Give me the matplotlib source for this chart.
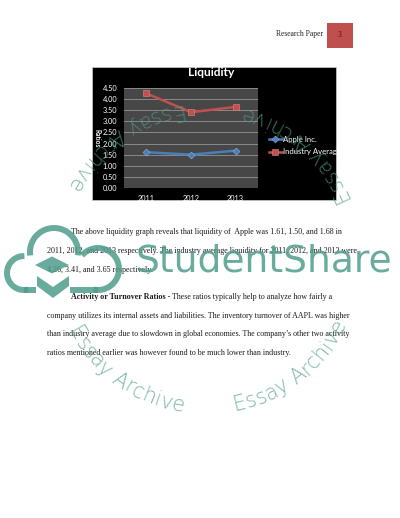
import matplotlib
matplotlib.use('Agg')
import matplotlib.pyplot as plt
import numpy as np
from matplotlib.patches import Rectangle, Polygon

# ---------------- data ----------------
years = ['2011', '2012', '2013']
apple = [1.61, 1.50, 1.68]
industry = [4.26, 3.41, 3.65]
series_names = ['Apple Inc.', 'Industry Average']
yticks = [0.0, 0.5, 1.0, 1.5, 2.0, 2.5, 3.0, 3.5, 4.0, 4.5]
chart_title = 'Liquidity'
y_label = 'Ratios'
header_text = 'Research Paper'
page_no = '3'
para1 = ['The above liquidity graph reveals that liquidity of  Apple was 1.61, 1.50, and 1.68 in',
         '2011, 2012, and 2013 respectively. The industry average liquidity for 2011, 2012, and 2013 were',
         '4.26, 3.41, and 3.65 respectively.']
para2_bold = 'Activity or Turnover Ratios -'
para2 = ['These ratios typically help to analyze how fairly a',
         'company utilizes its internal assets and liabilities. The inventory turnover of AAPL was higher',
         'than industry average due to slowdown in global economies. The company\u2019s other two activity',
         'ratios mentioned earlier was however found to be much lower than industry.']
brand = 'StudentShare'
ring_text = 'Essay Archive'

W, H = 400, 518
fig = plt.figure(figsize=(W / 100, H / 100), dpi=100)
fig.patch.set_facecolor('white')
renderer = fig.canvas.get_renderer()

page = fig.add_axes([0, 0, 1, 1])
page.set_xlim(0, W)
page.set_ylim(H, 0)
page.axis('off')


def width_px(ax, s, size, **kw):
    t = ax.text(0, 0, s, fontsize=size, **kw)
    w = t.get_window_extent(renderer).width
    t.remove()
    return w


serif = 'Liberation Serif'
sans = ['Lato', 'DejaVu Sans']

# ---------------- header ----------------
hs = 6 * 48 / width_px(page, header_text, 6, family=serif)
page.text(323, 34, header_text, fontsize=hs, family=serif, ha='right', va='center', color='#222222')
page.add_patch(Rectangle((327, 23), 26, 25, fc='#c0504d', ec='none'))
page.text(340, 35, page_no, fontsize=hs, family=serif, ha='center', va='center', color='#4a1010')

# ---------------- chart background ----------------
page.add_patch(Rectangle((92, 67), 244, 133, fc='black', ec='#d0d0d0', lw=0.5))
ts = 8 * 47 / width_px(page, chart_title, 8, family=sans, weight='bold')
page.text(211, 73, chart_title, fontsize=ts, family=sans, weight='bold', color='white',
          ha='center', va='center')

ax = fig.add_axes([124 / W, 1 - 188 / H, 134 / W, 100 / H])
ax.set_facecolor('#474747')
x = np.arange(len(years))
ax.plot(x, apple, color='#4a7ebb', lw=1.8, marker='D', ms=3.5, mfc='#4a7ebb', mec='#8eb0e0',
        mew=0.4, label=series_names[0], zorder=3)
ax.plot(x, industry, color='#c0504d', lw=1.8, marker='s', ms=5, mfc='#c0504d', mec='#e08a88',
        mew=0.4, label=series_names[1], zorder=3)
ax.set_xlim(-0.5, len(years) - 0.5)
ax.set_ylim(0, 4.5)
ax.set_xticks(x)
ax.set_xticklabels(years)
ax.set_yticks(yticks)
ax.set_yticklabels(['%.2f' % v for v in yticks])
ax.grid(axis='y', color='#8a8a8a', lw=0.7)
ax.set_axisbelow(True)
for s in ax.spines.values():
    s.set_visible(False)
ax.tick_params(length=0, colors='white', labelsize=5.3, pad=5)
for lab in ax.get_xticklabels() + ax.get_yticklabels():
    lab.set_family(sans)
ax.set_ylabel(y_label, rotation=270, color='white', fontsize=4.8, family=sans, weight='bold')
ax.yaxis.set_label_coords(-0.225, 0.5)
leg = ax.legend(loc='center left', bbox_to_anchor=(1.08, 0.425), frameon=False,
                prop={'family': sans, 'size': 5.6}, labelcolor='white', handlelength=1.7,
                handletextpad=0.2, labelspacing=0.75, borderaxespad=0, borderpad=0)

# ---------------- body text ----------------
bs = 6 * 315 / width_px(page, para1[1], 6, family=serif)
col = '#1a1a1a'
page.text(71, 232, para1[0], fontsize=bs, family=serif, va='center', color=col)
page.text(47, 251, para1[1], fontsize=bs, family=serif, va='center', color=col)
page.text(47, 270, para1[2], fontsize=bs, family=serif, va='center', color=col)
wb = width_px(page, para2_bold, bs, family=serif, weight='bold')
page.text(71, 297, para2_bold, fontsize=bs, family=serif, weight='bold', va='center', color=col)
page.text(71 + wb + bs * 1.39 * 0.25, 297, para2[0], fontsize=bs, family=serif, va='center', color=col)
page.text(47, 316, para2[1], fontsize=bs, family=serif, va='center', color=col)
page.text(47, 334, para2[2], fontsize=bs, family=serif, va='center', color=col)
page.text(47, 353, para2[3], fontsize=bs, family=serif, va='center', color=col)

# ---------------- watermark overlay ----------------
wm = fig.add_axes([0, 0, 1, 1], zorder=10)
wm.set_xlim(0, W)
wm.set_ylim(H, 0)
wm.axis('off')
wm.patch.set_alpha(0)
teal = '#4f9c8c'
walpha = 0.85

# brand text
bsz = 30 * 257 / width_px(wm, brand, 30, family='DejaVu Sans')
wm.text(135, 271, brand, fontsize=bsz, family='DejaVu Sans', color=teal, alpha=walpha,
        ha='left', va='baseline')

# cloud outline
circles = [(24, 273, 17), (54, 252, 24), (98, 269, 21)]
rect = (24, 98, 255, 290)


def inside(px, py, skip):
    m = np.zeros_like(px, dtype=bool)
    for k, (cx, cy, r) in enumerate(circles):
        if k == skip:
            continue
        m |= (px - cx) ** 2 + (py - cy) ** 2 < (r - 0.5) ** 2
    if skip != 'rect':
        m |= (px > rect[0] + 0.5) & (px < rect[1] - 0.5) & (py > rect[2] + 0.5) & (py < rect[3] - 0.5)
    return m


lw_cloud = 4.3
for k, (cx, cy, r) in enumerate(circles):
    t = np.linspace(0, 2 * np.pi, 720)
    px = cx + r * np.cos(t)
    py = cy + r * np.sin(t)
    m = inside(px, py, k)
    px = np.where(m, np.nan, px)
    wm.plot(px, py, color=teal, lw=lw_cloud, alpha=walpha, solid_capstyle='butt')
bx = np.linspace(rect[0], rect[1], 300)
by = np.full_like(bx, rect[3])
gap = (bx > 36) & (bx < 70)
wm.plot(np.where(gap, np.nan, bx), by, color=teal, lw=lw_cloud, alpha=walpha, solid_capstyle='butt')

# graduation cap and book
wm.add_patch(Polygon([(35, 265), (52, 256.5), (69, 265), (52, 273.5)], closed=True, fc=teal,
                     ec='none', alpha=walpha))
wm.add_patch(Polygon([(37, 276), (37, 286), (53, 298), (69, 286), (69, 276), (53, 287)], closed=True,
                     fc=teal, ec='none', alpha=walpha))

# ring text
rcx, rcy, rr = 205, 258, 150
rsz = 15
rfam = 'DejaVu Sans'
cw = []
for ch in ring_text:
    if ch == ' ':
        cw.append(rsz * 1.389 * 0.32)
    else:
        cw.append(width_px(wm, ch, rsz, family=rfam))
cw = np.array(cw)
span = np.deg2rad(54)
scale = span * rr / cw.sum()
for start in [22.5, 99, 208, 281]:
    cum = 0.0
    for ch, w in zip(ring_text, cw):
        a = np.deg2rad(start) + (cum + w / 2) * scale / rr
        cum += w
        if ch == ' ':
            continue
        xx = rcx + rr * np.cos(a)
        yy = rcy - rr * np.sin(a)
        wm.text(xx, yy, ch, fontsize=rsz, family=rfam, weight='light', color=teal, alpha=0.75,
                rotation=np.rad2deg(a) + 90, rotation_mode='anchor', ha='center', va='center')

fig.savefig('out.png', dpi=100, facecolor='white')
